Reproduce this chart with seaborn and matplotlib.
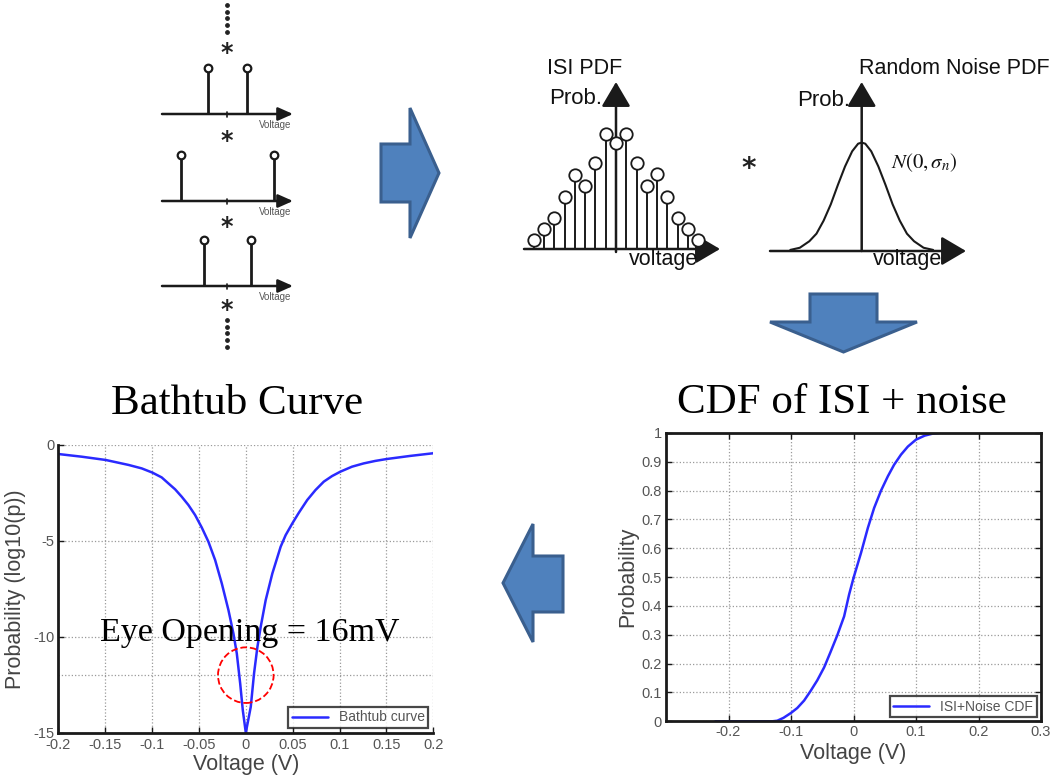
import numpy as np
import pandas as pd
import matplotlib
matplotlib.use("Agg")
import matplotlib.pyplot as plt
import seaborn as sns
from matplotlib.patches import Polygon, Ellipse

# ---------------- data ----------------
pulse_offsets = [[-19, 20], [-46, 47], [-23, 24]]          # ISI pulse positions (arb. voltage units)
pulse_probs = [[0.5, 0.5], [0.5, 0.5], [0.5, 0.5]]

isi_levels = list(range(-8, 9))
isi_prob = [0.08, 0.17, 0.27, 0.45, 0.64, 0.55, 0.75, 1.0, 0.92,
            1.0, 0.75, 0.55, 0.65, 0.45, 0.27, 0.17, 0.08]

noise_v = [-3.0, -2.6, -2.2, -1.9, -1.6, -1.3, -1.0, -0.7, -0.4, -0.15, 0.0,
           0.15, 0.4, 0.7, 1.0, 1.3, 1.6, 1.9, 2.2, 2.6, 3.0]
noise_p = [0.01, 0.03, 0.09, 0.16, 0.28, 0.43, 0.61, 0.78, 0.92, 0.99, 1.0,
           0.99, 0.92, 0.78, 0.61, 0.43, 0.28, 0.16, 0.09, 0.03, 0.01]

bathtub_v = [-0.2, -0.175, -0.1495, -0.125, -0.111, -0.0996, -0.0897, -0.0826,
             -0.0754, -0.0683, -0.0612, -0.0541, -0.047, -0.0399, -0.0327, -0.0256,
             -0.0185, -0.0132, -0.0096, -0.006, -0.0032, 0.0,
             0.0053, 0.0088, 0.0124, 0.0159, 0.0212, 0.0283, 0.0372, 0.0425, 0.0496,
             0.0566, 0.0655, 0.0743, 0.0832, 0.092, 0.1009, 0.1133, 0.1257, 0.1381,
             0.1504, 0.1752, 0.2]
bathtub_logp = [-0.47, -0.61, -0.78, -1.04, -1.22, -1.44, -1.69, -2.0,
                -2.31, -2.70, -3.13, -3.65, -4.30, -5.04, -6.0, -7.22,
                -8.61, -9.83, -10.87, -12.43, -13.83, -15.0,
                -13.65, -11.91, -10.52, -9.48, -8.09, -6.70, -5.30, -4.70, -4.09,
                -3.53, -2.87, -2.35, -1.91, -1.62, -1.39, -1.13, -0.96, -0.83,
                -0.73, -0.57, -0.43]

cdf_v = [-0.221, -0.130, -0.122, -0.112, -0.100, -0.090, -0.079, -0.069, -0.058,
         -0.047, -0.037, -0.026, -0.015, -0.007, 0.0, 0.012, 0.023, 0.033, 0.044,
         0.055, 0.065, 0.076, 0.087, 0.100, 0.114, 0.127, 0.138]
cdf_p = [0.0, 0.0, 0.002, 0.012, 0.029, 0.046, 0.072, 0.104, 0.142,
         0.187, 0.239, 0.298, 0.364, 0.440, 0.497, 0.584, 0.671, 0.740, 0.800,
         0.850, 0.890, 0.925, 0.953, 0.977, 0.991, 0.998, 1.0]

bath_xticks = [-0.2, -0.15, -0.1, -0.05, 0, 0.05, 0.1, 0.15, 0.2]
bath_xticklabels = ["-0.2", "-0.15", "-0.1", "-0.05", "0", "0.05", "0.1", "0.15", "0.2"]
bath_yticks = [-15, -10, -5, 0]
bath_yticklabels = ["-15", "-10", "-5", "0"]
eye_level = -12
cdf_xticks = [-0.2, -0.1, 0, 0.1, 0.2, 0.3]
cdf_xticklabels = ["-0.2", "-0.1", "0", "0.1", "0.2", "0.3"]
cdf_yticks = [0, 0.1, 0.2, 0.3, 0.4, 0.5, 0.6, 0.7, 0.8, 0.9, 1]
cdf_yticklabels = ["0", "0.1", "0.2", "0.3", "0.4", "0.5", "0.6", "0.7", "0.8", "0.9", "1"]

# ---------------- style ----------------
sns.set_theme(style="white")
plt.rcParams['font.family'] = ['Liberation Sans', 'DejaVu Sans']
plt.rcParams['mathtext.fontset'] = 'stix'

W, H = 1058, 782
fig = plt.figure(figsize=(W / 100, H / 100), dpi=100)
fig.patch.set_facecolor('white')


def px_rect(x0, y0, x1, y1):
    return [x0 / W, 1 - y1 / H, (x1 - x0) / W, (y1 - y0) / H]


def px_axes(x0, y0, x1, y1, xlim, ylim):
    ax = fig.add_axes(px_rect(x0, y0, x1, y1))
    ax.set_xlim(*xlim)
    ax.set_ylim(*ylim)
    ax.axis('off')
    return ax


def axis_arrow(ax, p0, p1, ms=10, hl=0.7, hw=0.3, lw=1.8, color='#1a1a1a'):
    ax.annotate('', xy=p1, xytext=p0,
                arrowprops=dict(arrowstyle=f'-|>,head_length={hl},head_width={hw}',
                                color=color, lw=lw, shrinkA=0, shrinkB=0,
                                mutation_scale=ms))


# ---------------- decoration layer (pixel coords) ----------------
deco = fig.add_axes([0, 0, 1, 1])
deco.set_xlim(0, W)
deco.set_ylim(H, 0)
deco.axis('off')

blue_face, blue_edge = '#4F81BD', '#3A5F8E'
arrows = [
    [(381, 144), (410, 144), (410, 108), (439, 173), (410, 238), (410, 202), (381, 202)],
    [(810, 294), (877, 294), (877, 322), (917, 322), (843.5, 352), (770, 322), (810, 322)],
    [(563, 556), (533, 556), (533, 524), (503, 583), (533, 642), (533, 612), (563, 612)],
]
for pts in arrows:
    deco.add_patch(Polygon(pts, closed=True, fc=blue_face, ec=blue_edge, lw=2.2, joinstyle='miter'))

# vertical dotted ellipses in the left column
for ys in ([5, 11.7, 18.3, 25, 31.7], [320, 326.7, 333.3, 340, 346.7]):
    deco.scatter([227] * len(ys), ys, s=6, color='#222', zorder=3)
for y in (48, 136, 222, 305):
    deco.text(227, y + 12, '*', ha='center', va='baseline', fontsize=17,
              fontweight='bold', color='#222', family='DejaVu Sans')
deco.text(749, 162 + 15, '*', ha='center', va='baseline', fontsize=20,
          fontweight='bold', color='#222', family='DejaVu Sans')

deco.text(237, 404, 'Bathtub Curve', ha='center', va='center', fontsize=31,
          family='Liberation Serif', color='black')
deco.text(842, 403, 'CDF of ISI + noise', ha='center', va='center', fontsize=31,
          family='Liberation Serif', color='black')

# ---------------- ISI pulse pairs (left column) ----------------
for baseline, offs, probs in zip([114, 201, 286], pulse_offsets, pulse_probs):
    unit = 92.0
    ax = px_axes(158, baseline - 58, 298, baseline + 18,
                 (158 - 227, 298 - 227), (-18 / unit, 58 / unit))
    axis_arrow(ax, (-65, 0), (66, 0), ms=10, hl=0.9, hw=0.4, lw=1.8)
    ax.plot([0, 0], [-2.5 / unit, 2.5 / unit], color='#1a1a1a', lw=1.2)
    ax.vlines(offs, 0, probs, color='#1a1a1a', lw=2)
    sns.scatterplot(x=offs, y=probs, ax=ax, s=30, facecolor='white',
                    edgecolor='#1a1a1a', linewidth=1.6, zorder=3, legend=False)
    ax.text(48, -11 / unit, 'Voltage', ha='center', va='center', fontsize=7,
            color='#555')

# ---------------- ISI PDF ----------------
cx, by = 616.0, 249.0          # pixel position of the ISI origin
sx, sy = 10.26, 115.3          # pixels per level / per unit probability
ax_isi = px_axes(515, 55, 730, 275,
                 ((515 - cx) / sx, (730 - cx) / sx),
                 ((by - 275) / sy, (by - 55) / sy))
axis_arrow(ax_isi, ((524 - cx) / sx, 0), ((720 - cx) / sx, 0), ms=18, hl=0.85, hw=0.5, lw=1.8)
axis_arrow(ax_isi, (0, -3 / sy), (0, (by - 82) / sy), ms=18, hl=0.85, hw=0.5, lw=1.8)
ax_isi.vlines(isi_levels, 0, isi_prob, color='#1a1a1a', lw=1.4)
sns.scatterplot(x=isi_levels, y=isi_prob, ax=ax_isi, s=80, facecolor='white',
                edgecolor='#1a1a1a', linewidth=1.3, zorder=3, legend=False)
ax_isi.text((547 - cx) / sx, (by - 69) / sy, 'ISI PDF', ha='left', va='center',
            fontsize=15.5, color='#111')
ax_isi.text((549 - cx) / sx, (by - 98) / sy, 'Prob.', ha='left', va='center',
            fontsize=16, color='#111')
ax_isi.text((664 - cx) / sx, (by - 259) / sy, 'voltage', ha='center', va='center',
            fontsize=15.5, color='#111')

# ---------------- Random noise PDF ----------------
gcx, gby = 861.7, 251.0
gx, gy = 23.8, 108.4
ax_n = px_axes(760, 55, 1058, 275,
               ((760 - gcx) / gx, (1058 - gcx) / gx),
               ((gby - 275) / gy, (gby - 55) / gy))
axis_arrow(ax_n, ((770 - gcx) / gx, 0), ((966 - gcx) / gx, 0), ms=18, hl=0.85, hw=0.5, lw=1.8)
axis_arrow(ax_n, (0, 0), (0, (gby - 82) / gy), ms=18, hl=0.85, hw=0.5, lw=1.8)
sns.lineplot(x=noise_v, y=noise_p, ax=ax_n, color='#1a1a1a', lw=1.5, legend=False)
ax_n.text((859 - gcx) / gx, (gby - 69) / gy, 'Random Noise PDF', ha='left', va='center',
          fontsize=15.5, color='#111', clip_on=False)
ax_n.text((850 - gcx) / gx, (gby - 101) / gy, 'Prob.', ha='right', va='center',
          fontsize=16, color='#111')
ax_n.text((908 - gcx) / gx, (gby - 259) / gy, 'voltage', ha='center', va='center',
          fontsize=15.5, color='#111')
ax_n.text((891 - gcx) / gx, (gby - 163) / gy, r'$N(0,\sigma_n)$', ha='left', va='center',
          fontsize=15, color='#111')

# ---------------- Bathtub curve ----------------
line_blue = '#2a2aff'
grid_kw = dict(ls=':', color='#9a9a9a', lw=0.9)
ax1 = fig.add_axes(px_rect(58.3, 445, 433.3, 732.7))
ax1.set_facecolor('white')
sns.lineplot(x=bathtub_v, y=bathtub_logp, ax=ax1, color=line_blue, lw=1.8,
             label='Bathtub curve', sort=False)
ax1.set_xlim(-0.2, 0.2)
ax1.set_ylim(-15, 0)
ax1.set_xticks(bath_xticks)
ax1.set_xticklabels(bath_xticklabels)
ax1.set_yticks(bath_yticks)
ax1.set_yticklabels(bath_yticklabels)
ax1.grid(True, **grid_kw)
ax1.axhline(eye_level, **grid_kw, zorder=1)
for s in ('top', 'right'):
    ax1.spines[s].set_visible(False)
for s in ('left', 'bottom'):
    ax1.spines[s].set_linewidth(2)
    ax1.spines[s].set_color('#1a1a1a')
ax1.tick_params(direction='in', length=4, width=1, color='#1a1a1a', labelcolor='#555',
                labelsize=10.5, pad=3, left=True, bottom=True)
ax1.tick_params(axis='x', pad=4)
ax1.set_xlabel('Voltage (V)', fontsize=15.5, color='#444')
ax1.set_ylabel('Probability (log10(p))', fontsize=15.5, color='#444')
ax1.xaxis.set_label_coords(0.5, -0.075)
ax1.yaxis.set_label_coords(-0.085, 0.5)
ax1.add_patch(Ellipse((0, eye_level), 0.0593, 2.9, fill=False, ec='red', ls='--', lw=1.3, zorder=4))
ax1.text(-0.1556, -10.2, 'Eye Opening = 16mV', ha='left', va='baseline', fontsize=24.5,
         family='Liberation Serif', color='black', zorder=5)
leg1 = ax1.legend(loc='lower right', fontsize=10, frameon=True, fancybox=False,
                  borderpad=0.25, handlelength=2.6, borderaxespad=0.35,
                  labelcolor='#555')
leg1.get_frame().set_edgecolor('#1a1a1a')
leg1.get_frame().set_linewidth(1.6)

# ---------------- CDF ----------------
ax2 = fig.add_axes(px_rect(666, 433, 1041, 721.3))
ax2.set_facecolor('white')
sns.lineplot(x=cdf_v, y=cdf_p, ax=ax2, color=line_blue, lw=1.8,
             label='ISI+Noise CDF', sort=False)
ax2.set_xlim(-0.3, 0.3)
ax2.set_ylim(0, 1)
ax2.set_xticks(cdf_xticks)
ax2.set_xticklabels(cdf_xticklabels)
ax2.set_yticks(cdf_yticks)
ax2.set_yticklabels(cdf_yticklabels)
ax2.grid(True, **grid_kw)
for s in ax2.spines.values():
    s.set_linewidth(2)
    s.set_color('#1a1a1a')
ax2.tick_params(direction='in', length=4, width=1, color='#1a1a1a', labelcolor='#555',
                labelsize=10.5, pad=3, top=True, right=True, left=True, bottom=True)
ax2.set_xlabel('Voltage (V)', fontsize=15.5, color='#444')
ax2.set_ylabel('Probability', fontsize=15.5, color='#444')
ax2.xaxis.set_label_coords(0.5, -0.075)
ax2.yaxis.set_label_coords(-0.075, 0.5)
leg2 = ax2.legend(loc='lower right', fontsize=10, frameon=True, fancybox=False,
                  borderpad=0.25, handlelength=2.6, borderaxespad=0.3,
                  labelcolor='#555')
leg2.get_frame().set_edgecolor('#1a1a1a')
leg2.get_frame().set_linewidth(1.6)

fig.savefig('out.png', dpi=100, facecolor='white')
